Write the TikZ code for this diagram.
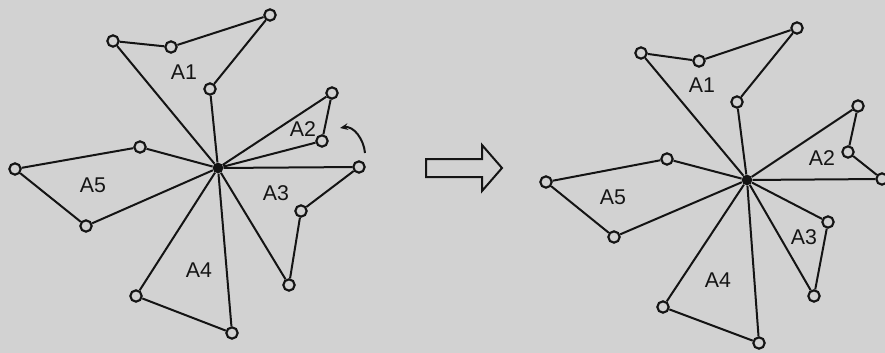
\documentclass[tikz,border=0pt]{standalone}
\usepackage{fontspec}
\setmainfont{Liberation Sans}
\usetikzlibrary{arrows.meta}
\definecolor{bg}{RGB}{210,210,210}
\definecolor{ink}{RGB}{20,20,20}
\begin{document}
\begin{tikzpicture}[x=0.75pt,y=-0.75pt,
 pt/.style={circle,draw=ink,line width=1.6pt,fill=bg,inner sep=0pt,minimum size=8.5pt},
 hub/.style={circle,fill=ink,inner sep=0pt,minimum size=8pt},
 edge/.style={line width=1.5pt,draw=ink},
 lbl/.style={font=\fontsize{16}{16}\selectfont,text=ink,inner sep=0pt}]
\fill[bg] (0,0) rectangle (885,353);
\useasboundingbox (0,0) rectangle (885,353);
% ---------- left figure ----------
\node[hub] (C) at (218,168) {};
\node[pt] (a1) at (113,41) {};
\node[pt] (a2) at (171,47) {};
\node[pt] (a3) at (270,15) {};
\node[pt] (a4) at (210,89) {};
\node[pt] (b1) at (332,93) {};
\node[pt] (b2) at (322,141) {};
\node[pt] (c1) at (359,167) {};
\node[pt] (c2) at (301,211) {};
\node[pt] (c3) at (289,285) {};
\node[pt] (d1) at (136,296) {};
\node[pt] (d2) at (232,333) {};
\node[pt] (e1) at (140,147) {};
\node[pt] (e2) at (15,169) {};
\node[pt] (e3) at (86,226) {};
\draw[edge] (C) -- (a1) -- (a2) -- (a3) -- (a4) -- (C);
\draw[edge] (C) -- (b1) -- (b2) -- (C);
\draw[edge] (C) -- (c1) -- (c2) -- (c3) -- (C);
\draw[edge] (C) -- (d1) -- (d2) -- (C);
\draw[edge] (C) -- (e1) -- (e2) -- (e3) -- (C);
\node[lbl] (lA1) at (184,72) {A1};
\node[lbl] (lA2) at (303,129) {A2};
\node[lbl] (lA3) at (276,193) {A3};
\node[lbl] (lA4) at (199,270) {A4};
\node[lbl] (lA5) at (93,185) {A5};
\coordinate (r1) at (365,153);
\coordinate (r2) at (340,128);
\draw[edge,-{Stealth[length=6pt,width=5pt]}] (r1) to[out=95,in=10] (r2);
% ---------- block arrow ----------
\draw[line width=1.5pt,draw=ink,line join=miter]
 (426,159) -- (482,159) -- (482,145) -- (502,168) -- (482,191) -- (482,177) -- (426,177) -- cycle;
% ---------- right figure ----------
\node[hub] (D) at (747,180) {};
\node[pt] (f1) at (641,53) {};
\node[pt] (f2) at (699,61) {};
\node[pt] (f3) at (797,28) {};
\node[pt] (f4) at (737,102) {};
\node[pt] (g1) at (858,106) {};
\node[pt] (g2) at (848,152) {};
\node[pt] (g3) at (882,179) {};
\node[pt] (h1) at (828,222) {};
\node[pt] (h2) at (814,296) {};
\node[pt] (i1) at (663,307) {};
\node[pt] (i2) at (759,343) {};
\node[pt] (j1) at (667,159) {};
\node[pt] (j2) at (546,182) {};
\node[pt] (j3) at (614,237) {};
\draw[edge] (D) -- (f1) -- (f2) -- (f3) -- (f4) -- (D);
\draw[edge] (D) -- (g1) -- (g2) -- (g3) -- (D);
\draw[edge] (D) -- (h1) -- (h2) -- (D);
\draw[edge] (D) -- (i1) -- (i2) -- (D);
\draw[edge] (D) -- (j1) -- (j2) -- (j3) -- (D);
\node[lbl] (lB1) at (702,85) {A1};
\node[lbl] (lB2) at (822,158) {A2};
\node[lbl] (lB3) at (804,237) {A3};
\node[lbl] (lB4) at (718,280) {A4};
\node[lbl] (lB5) at (613,197) {A5};
\end{tikzpicture}
\end{document}
